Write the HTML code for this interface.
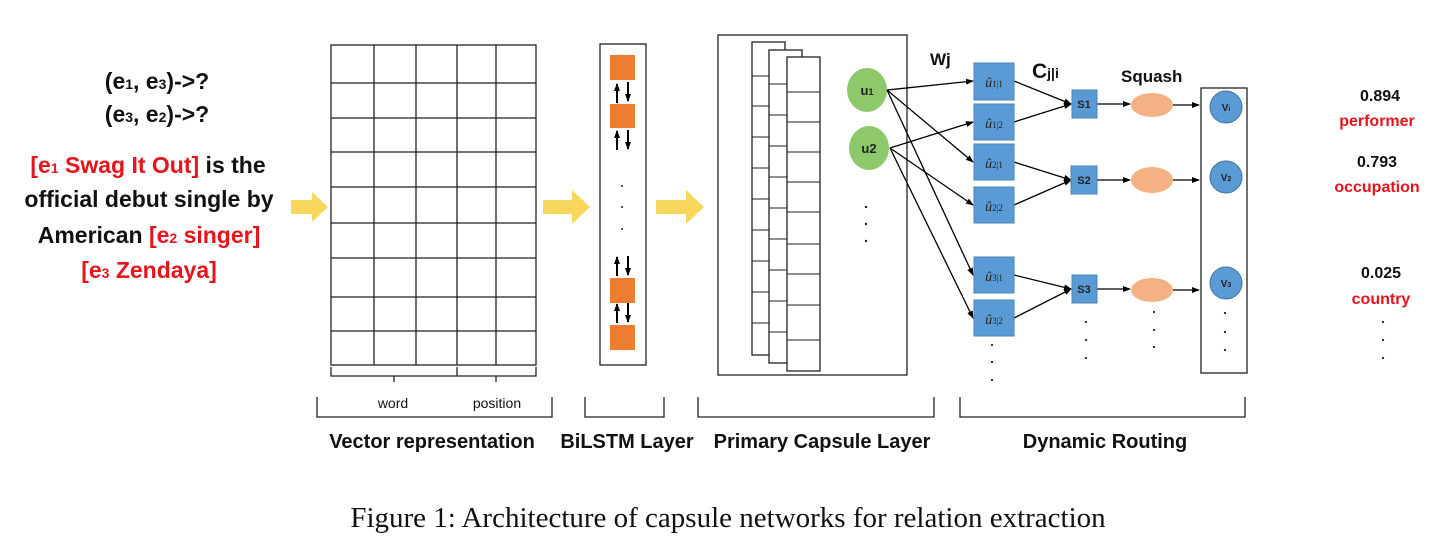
<!DOCTYPE html>
<html><head><meta charset="utf-8"><style>
html,body{margin:0;padding:0;background:#fff;}
svg{display:block;}
text{font-family:"Liberation Sans",sans-serif;}
</style></head><body>
<svg width="1454" height="558" viewBox="0 0 1454 558" xmlns="http://www.w3.org/2000/svg">
<defs>
<marker id="ah" markerWidth="8" markerHeight="6" refX="7" refY="3" orient="auto" markerUnits="userSpaceOnUse"><path d="M0,0 L8,3 L0,6 z" fill="#000"/></marker>
</defs>
<g font-size="23" text-anchor="middle" style="font-weight:bold">
<text x="157" y="89" fill="#111">(e<tspan font-size="14">1</tspan>, e<tspan font-size="14">3</tspan>)-&gt;?</text>
<text x="157" y="122" fill="#111">(e<tspan font-size="14">3</tspan>, e<tspan font-size="14">2</tspan>)-&gt;?</text>
<text x="148" y="173"><tspan fill="#e8131b">[e<tspan font-size="14">1</tspan> Swag It Out]</tspan><tspan fill="#111"> is the</tspan></text>
<text x="149" y="207" fill="#111">official debut  single by</text>
<text x="149" y="243"><tspan fill="#111">American </tspan><tspan fill="#e8131b">[e<tspan font-size="14">2</tspan> singer]</tspan></text>
<text x="149" y="278" fill="#e8131b">[e<tspan font-size="14">3</tspan>  Zendaya]</text>
</g>
<g fill="#f9d65c">
<path d="M291,200 L312,200 L312,192 L328,207 L312,222 L312,214 L291,214 z"/>
<path d="M543,200 L572,200 L572,190 L590,207 L572,224 L572,214 L543,214 z"/>
<path d="M656,200 L686,200 L686,190 L704,207 L686,224 L686,214 L656,214 z"/>
</g>
<g stroke="#222" stroke-width="1.3" fill="none">
<rect x="331" y="45" width="205" height="320"/>
<line x1="374" y1="45" x2="374" y2="365"/><line x1="416" y1="45" x2="416" y2="365"/>
<line x1="457" y1="45" x2="457" y2="365"/><line x1="496" y1="45" x2="496" y2="365"/>
<line x1="331" y1="83" x2="536" y2="83"/><line x1="331" y1="118" x2="536" y2="118"/>
<line x1="331" y1="152" x2="536" y2="152"/><line x1="331" y1="187" x2="536" y2="187"/>
<line x1="331" y1="223" x2="536" y2="223"/><line x1="331" y1="258" x2="536" y2="258"/>
<line x1="331" y1="297" x2="536" y2="297"/><line x1="331" y1="331" x2="536" y2="331"/>
<path d="M331,367 v9 h63 v6 M394,376 h63 v-9 M457,376 h39 v6 M496,376 h40 v-9"/>
<path d="M317,397 v20 h235 v-20"/>
<path d="M585,397 v20 h79 v-20"/>
<path d="M698,397 v20 h236 v-20"/>
<path d="M960,397 v20 h285 v-20"/>
</g>
<text x="393" y="408" font-size="14" text-anchor="middle" fill="#111">word</text>
<text x="497" y="408" font-size="14" text-anchor="middle" fill="#111">position</text>
<g font-size="20" style="font-weight:bold" fill="#111" text-anchor="middle">
<text x="432" y="448">Vector representation</text>
<text x="627" y="448">BiLSTM Layer</text>
<text x="822" y="448">Primary Capsule Layer</text>
<text x="1105" y="448">Dynamic Routing</text>
</g>
<rect x="600" y="44" width="46" height="321" fill="none" stroke="#222" stroke-width="1.3"/>
<g fill="#ed7d31">
<rect x="610" y="55" width="25" height="25"/><rect x="610" y="104" width="25" height="24"/>
<rect x="610" y="278" width="25" height="25"/><rect x="610" y="325" width="25" height="25"/>
</g>
<g stroke="#000" stroke-width="2" marker-end="url(#ah)">
<line x1="617" y1="103" x2="617" y2="84"/><line x1="628" y1="82" x2="628" y2="101"/>
<line x1="617" y1="150" x2="617" y2="131"/><line x1="628" y1="130" x2="628" y2="149"/>
<line x1="617" y1="276" x2="617" y2="257"/><line x1="628" y1="256" x2="628" y2="275"/>
<line x1="617" y1="323" x2="617" y2="304"/><line x1="628" y1="303" x2="628" y2="322"/>
</g>
<g fill="#222"><circle cx="622" cy="186" r="1"/><circle cx="622" cy="207" r="1"/><circle cx="622" cy="229" r="1"/></g>
<g stroke="#222" stroke-width="1.3" fill="#fff">
<rect x="718" y="35" width="189" height="340" fill="none"/>
<rect x="752" y="42" width="33" height="313"/>
<rect x="769" y="50" width="33" height="313"/>
<rect x="787" y="57" width="33" height="314"/>
</g>
<g stroke="#222" stroke-width="1.1">
<path d="M752,76h17M752,106h17M752,137h17M752,168h17M752,199h17M752,230h17M752,261h17M752,292h17M752,323h17"/>
<path d="M769,84h18M769,115h18M769,146h18M769,177h18M769,208h18M769,239h18M769,270h18M769,301h18M769,332h18"/>
<path d="M787,92h33M787,122h33M787,152h33M787,182h33M787,212h33M787,244h33M787,274h33M787,305h33M787,340h33"/>
</g>
<ellipse cx="867" cy="90" rx="20" ry="22" fill="#8dc96a"/>
<ellipse cx="869" cy="148" rx="20" ry="22" fill="#8dc96a"/>
<text x="867" y="95" font-size="13" style="font-weight:bold" text-anchor="middle" fill="#222">u<tspan font-size="9">1</tspan></text>
<text x="869" y="153" font-size="13" style="font-weight:bold" text-anchor="middle" fill="#222">u2</text>
<g fill="#222"><circle cx="866" cy="207" r="1.2"/><circle cx="866" cy="224" r="1.2"/><circle cx="866" cy="241" r="1.2"/></g>
<g stroke="#000" stroke-width="1.3" marker-end="url(#ah)">
<line x1="887" y1="90" x2="973" y2="81"/><line x1="887" y1="90" x2="973" y2="162"/><line x1="887" y1="90" x2="973" y2="275"/>
<line x1="890" y1="148" x2="973" y2="122"/><line x1="890" y1="148" x2="973" y2="205"/><line x1="890" y1="148" x2="973" y2="318"/>
<line x1="1014" y1="81" x2="1071" y2="104"/><line x1="1014" y1="122" x2="1071" y2="104"/>
<line x1="1014" y1="162" x2="1071" y2="180"/><line x1="1014" y1="205" x2="1071" y2="180"/>
<line x1="1014" y1="275" x2="1071" y2="289"/><line x1="1014" y1="318" x2="1071" y2="289"/>
<line x1="1097" y1="104" x2="1130" y2="104"/><line x1="1097" y1="180" x2="1130" y2="180"/><line x1="1097" y1="289" x2="1130" y2="289"/>
<line x1="1173" y1="105" x2="1199" y2="105"/><line x1="1173" y1="180" x2="1199" y2="180"/><line x1="1173" y1="290" x2="1199" y2="290"/>
</g>
<g fill="#5b9bd5" stroke="#4a84b8">
<rect x="974" y="63" width="40" height="37"/><rect x="974" y="104" width="40" height="36"/>
<rect x="974" y="144" width="40" height="36"/><rect x="974" y="187" width="40" height="36"/>
<rect x="974" y="257" width="40" height="36"/><rect x="974" y="300" width="40" height="36"/>
</g>
<g font-size="14" fill="#222" text-anchor="middle">
<text x="994" y="87" style="font-family:'Liberation Serif',serif;font-style:italic">û<tspan font-size="9" font-style="normal">1|1</tspan></text>
<text x="994" y="128" style="font-family:'Liberation Serif',serif;font-style:italic">û<tspan font-size="9" font-style="normal">1|2</tspan></text>
<text x="994" y="168" style="font-family:'Liberation Serif',serif;font-style:italic">û<tspan font-size="9" font-style="normal">2|1</tspan></text>
<text x="994" y="211" style="font-family:'Liberation Serif',serif;font-style:italic">û<tspan font-size="9" font-style="normal">2|2</tspan></text>
<text x="994" y="281" style="font-family:'Liberation Serif',serif;font-style:italic">û<tspan font-size="9" font-style="normal">3|1</tspan></text>
<text x="994" y="324" style="font-family:'Liberation Serif',serif;font-style:italic">û<tspan font-size="9" font-style="normal">3|2</tspan></text>
</g>
<g fill="#5b9bd5" stroke="#4a84b8">
<rect x="1072" y="90" width="25" height="28"/><rect x="1071" y="166" width="26" height="28"/><rect x="1072" y="275" width="25" height="28"/>
</g>
<g font-size="11" style="font-weight:bold" fill="#222" text-anchor="middle">
<text x="1084" y="108">S1</text><text x="1084" y="184">S2</text><text x="1084" y="293">S3</text>
</g>
<g fill="#f4b183">
<ellipse cx="1152" cy="105" rx="21" ry="12"/><ellipse cx="1152" cy="180" rx="21" ry="13"/><ellipse cx="1152" cy="290" rx="21" ry="12"/>
</g>
<rect x="1201" y="88" width="46" height="285" fill="none" stroke="#222" stroke-width="1.3"/>
<g fill="#5b9bd5" stroke="#41719c">
<circle cx="1226" cy="107" r="16"/><circle cx="1226" cy="177" r="16"/><circle cx="1226" cy="283" r="16"/>
</g>
<g font-size="10" style="font-weight:bold" fill="#222" text-anchor="middle">
<text x="1226" y="111">V<tspan font-size="7">i</tspan></text><text x="1226" y="181">V<tspan font-size="7">2</tspan></text><text x="1226" y="287">V<tspan font-size="7">3</tspan></text>
</g>
<g fill="#222">
<circle cx="992" cy="345" r="1.1"/><circle cx="992" cy="362" r="1.1"/><circle cx="992" cy="380" r="1.1"/>
<circle cx="1086" cy="322" r="1.1"/><circle cx="1086" cy="340" r="1.1"/><circle cx="1086" cy="358" r="1.1"/>
<circle cx="1154" cy="312" r="1.1"/><circle cx="1154" cy="330" r="1.1"/><circle cx="1154" cy="347" r="1.1"/>
<circle cx="1225" cy="313" r="1.1"/><circle cx="1225" cy="332" r="1.1"/><circle cx="1225" cy="350" r="1.1"/>
<circle cx="1383" cy="322" r="1.1"/><circle cx="1383" cy="340" r="1.1"/><circle cx="1383" cy="358" r="1.1"/>
</g>
<g style="font-weight:bold" fill="#111">
<text x="930" y="65" font-size="17">Wj</text>
<text x="1032" y="78" font-size="21">C<tspan font-size="14">j|i</tspan></text>
<text x="1121" y="82" font-size="17">Squash</text>
</g>
<g style="font-weight:bold" font-size="16" text-anchor="middle">
<text x="1380" y="101" fill="#111">0.894</text><text x="1377" y="126" fill="#e8131b">performer</text>
<text x="1377" y="167" fill="#111">0.793</text><text x="1377" y="192" fill="#e8131b">occupation</text>
<text x="1381" y="278" fill="#111">0.025</text><text x="1381" y="304" fill="#e8131b">country</text>
</g>
<text x="728" y="527" font-size="29" text-anchor="middle" fill="#111" style="font-family:'Liberation Serif',serif">Figure 1: Architecture of capsule networks for relation extraction</text>
</svg>
</body></html>
